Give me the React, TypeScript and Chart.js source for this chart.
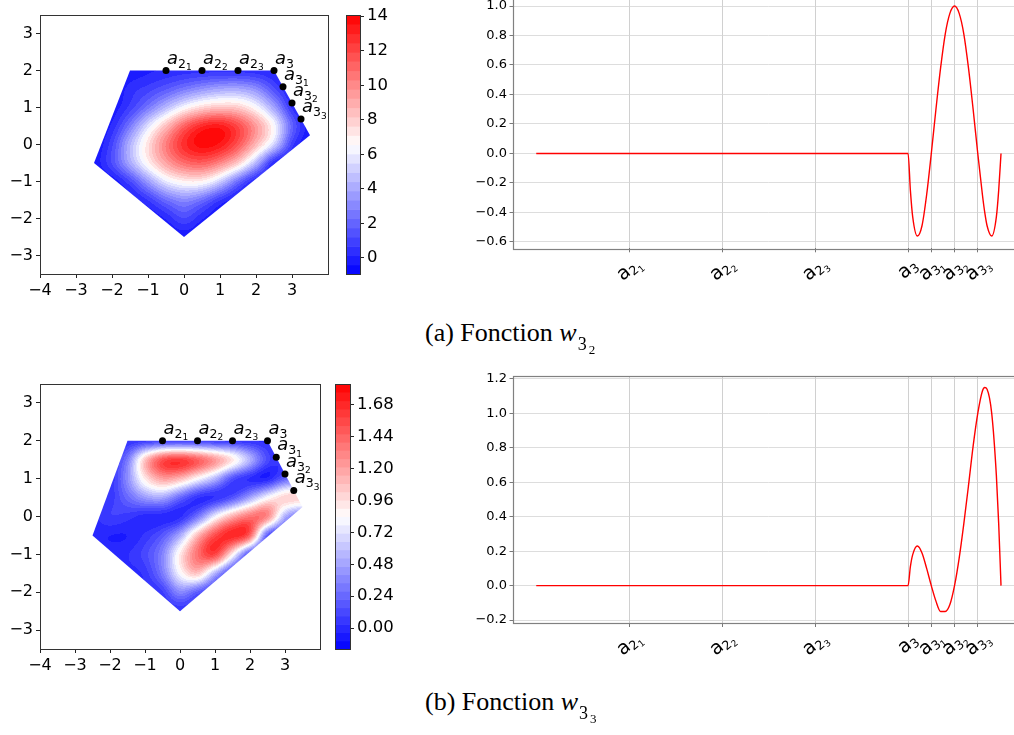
import React, { useEffect, useRef } from "react";
import { Chart, registerables } from "chart.js";

Chart.register(...registerables);

// ---------------- data ----------------
const contourXTicks = [-4, -3, -2, -1, 0, 1, 2, 3];
const contourYTicks = [-3, -2, -1, 0, 1, 2, 3];

const polygonX = [-1.5, 2.5, 3.5, 0, -2.5];
const polygonY = [2, 2, 0.25, -2.5, -0.5];

const nodeX = [-0.5, 0.5, 1.5, 2.5, 2.75, 3, 3.25];
const nodeY = [2, 2, 2, 2, 1.5625, 1.125, 0.6875];
const nodeSub = ["2", "2", "2", "3", "3", "3", "3"];
const nodeSubSub = ["1", "2", "3", "", "1", "2", "3"];

// field sample grid
const gridX = [-2.5, -2, -1.5, -1, -0.5, 0, 0.5, 1, 1.5, 2, 2.5, 3, 3.5];
const gridY = [2, 1.5, 1, 0.5, 0, -0.5, -1, -1.5, -2, -2.5];

const fieldW32 = [
  [-0.5, -0.5, -0.3, 0, 0.2, 0.3, 0.3, 0.3, 0.3, 0.2, 0, -0.5, -0.5],
  [-0.5, -0.5, 0.4, 0.9, 1.6, 2.5, 3.3, 3.9, 4.0, 3.3, 1.3, -0.3, -0.5],
  [-0.5, -0.3, 0.8, 2.5, 4.5, 6.5, 7.8, 8.3, 8.1, 6.6, 3.9, 0.4, -0.5],
  [-0.5, 0.2, 2.6, 5.8, 8.6, 11.4, 13.2, 13.6, 12.2, 9.8, 6.8, 2.0, -0.3],
  [-0.5, 1.0, 4.5, 7.6, 10.6, 13.0, 14.0, 13.6, 11.8, 8.8, 5.6, 0.8, -0.5],
  [-0.3, 1.3, 4.2, 7.0, 9.4, 11.0, 11.5, 10.3, 8.2, 4.4, -0.2, -0.5, -0.5],
  [-0.5, -0.4, 1.0, 3.6, 6.0, 7.0, 7.0, 5.2, 2.0, -0.3, -0.5, -0.5, -0.5],
  [-0.5, -0.5, -0.4, 0.6, 2.2, 3.1, 2.2, 0.5, -0.4, -0.5, -0.5, -0.5, -0.5],
  [-0.5, -0.5, -0.5, -0.5, 0.1, 1.3, 0.1, -0.5, -0.5, -0.5, -0.5, -0.5, -0.5],
  [-0.5, -0.5, -0.5, -0.5, -0.5, -0.3, -0.5, -0.5, -0.5, -0.5, -0.5, -0.5, -0.5],
];

const fieldW33 = [
  [0, 0, 0, 0, 0, 0, 0, 0, 0, 0, 0, 0, 0],
  [0, 0, 0.3, 1.15, 1.65, 1.75, 1.6, 1.35, 1.05, 0.6, 0.12, 0, 0],
  [0, 0, 0.4, 0.95, 1.25, 1.15, 0.84, 0.55, 0.08, -0.05, -0.1, 0.2, 0.3],
  [0, 0.04, 0.25, 0.45, 0.5, 0.2, -0.04, -0.06, 0.1, 0.45, 0.85, 1.1, 1.1],
  [0, 0.1, 0.05, -0.04, -0.06, -0.05, 0.25, 0.8, 1.2, 1.45, 1.45, 0.5, 0.2],
  [0, -0.05, -0.05, 0.04, 0.18, 0.5, 1.15, 1.6, 1.8, 1.6, 0.05, 0, 0],
  [0, 0, 0.02, 0.12, 0.35, 0.95, 1.45, 1.7, 0.9, 0, 0, 0, 0],
  [0, 0, 0, 0.04, 0.32, 0.85, 1.15, 0.5, 0, 0, 0, 0, 0],
  [0, 0, 0, 0, 0.05, 0.4, 0.15, 0, 0, 0, 0, 0, 0],
  [0, 0, 0, 0, 0, 0, 0, 0, 0, 0, 0, 0, 0],
];

const colorRangeA = [-0.93, 14.07];
const colorRangeB = [-0.158, 1.838];
const colorbarTicksA = [0, 2, 4, 6, 8, 10, 12, 14];
const colorbarTicksB = [0, 0.24, 0.48, 0.72, 0.96, 1.2, 1.44, 1.68];

// traces along the boundary
const edgeParam = [0, 4, 4.025, 4.05, 4.1, 4.15, 4.2, 4.25, 4.3, 4.35, 4.4, 4.45, 4.5, 4.55, 4.6, 4.65, 4.7, 4.75, 4.8, 4.825, 4.85, 4.9, 4.95, 4.975, 5];
const traceW32 = [0, 0, -0.25, -0.43, -0.56, -0.49, -0.28, 0, 0.3, 0.58, 0.81, 0.95, 1.0, 0.95, 0.81, 0.58, 0.3, 0, -0.28, -0.4, -0.49, -0.56, -0.43, -0.25, 0];
const traceW33 = [0, 0, 0.11, 0.18, 0.23, 0.19, 0.1, 0, -0.09, -0.15, -0.15, -0.11, 0, 0.16, 0.36, 0.58, 0.81, 1.0, 1.13, 1.15, 1.14, 1.0, 0.64, 0.36, 0];

const lineXTicks = [1, 2, 3, 4, 4.25, 4.5, 4.75];
const lineTickSub = ["2", "2", "2", "3", "3", "3", "3"];
const lineTickSubSub = ["1", "2", "3", "", "1", "2", "3"];
const lineYTicksA = [-0.6, -0.4, -0.2, 0, 0.2, 0.4, 0.6, 0.8, 1.0];
const lineYTicksB = [-0.2, 0, 0.2, 0.4, 0.6, 0.8, 1.0, 1.2];
const lineRangeA = [-0.643, 1.078];
const lineRangeB = [-0.217, 1.217];

// ---------------- helpers ----------------
const FONT = "'DejaVu Sans', sans-serif";
const MINUS = "\u2212";
const fmt = (v: number, d: number) => (v < -1e-9 ? MINUS : "") + Math.abs(v).toFixed(d);

function bwr(n: number): [number, number, number] {
  const t = Math.max(0, Math.min(1, n));
  if (t < 0.5) {
    const c = Math.round(510 * t);
    return [c, c, 255];
  }
  const c = Math.round(510 * (1 - t));
  return [255, c, c];
}

function boxPlugin(color: string, width: number) {
  return {
    id: "box",
    afterDraw(chart: any) {
      const { ctx, chartArea: ca } = chart;
      ctx.save();
      ctx.strokeStyle = color;
      ctx.lineWidth = width;
      ctx.strokeRect(Math.round(ca.left) + 0.5, Math.round(ca.top) + 0.5, Math.round(ca.right - ca.left), Math.round(ca.bottom - ca.top));
      ctx.restore();
    },
  };
}

function fieldPlugin(field: number[][], range: number[], bands: number) {
  return {
    id: "field",
    beforeDatasetsDraw(chart: any) {
      const { ctx, chartArea: ca, scales } = chart;
      const xs = scales.x, ys = scales.y;
      const cols = gridX.length, rows = gridY.length;
      const src = document.createElement("canvas");
      src.width = cols;
      src.height = rows;
      const sctx = src.getContext("2d")!;
      const img = sctx.createImageData(cols, rows);
      for (let r = 0; r < rows; r++) {
        for (let c = 0; c < cols; c++) {
          const n = (field[r][c] - range[0]) / (range[1] - range[0]);
          const b = Math.max(0, Math.min(255, Math.round(n * 255)));
          const i = (r * cols + c) * 4;
          img.data[i] = b;
          img.data[i + 1] = b;
          img.data[i + 2] = b;
          img.data[i + 3] = 255;
        }
      }
      sctx.putImageData(img, 0, 0);
      const W = Math.ceil(ca.right - ca.left);
      const H = Math.ceil(ca.bottom - ca.top);
      const off = document.createElement("canvas");
      off.width = W;
      off.height = H;
      const octx = off.getContext("2d", { willReadFrequently: true }) as CanvasRenderingContext2D;
      octx.imageSmoothingEnabled = true;
      (octx as any).imageSmoothingQuality = "high";
      const hx = (gridX[1] - gridX[0]) / 2;
      const hy = (gridY[0] - gridY[1]) / 2;
      const l = xs.getPixelForValue(gridX[0] - hx) - ca.left;
      const rr = xs.getPixelForValue(gridX[cols - 1] + hx) - ca.left;
      const t = ys.getPixelForValue(gridY[0] + hy) - ca.top;
      const bb = ys.getPixelForValue(gridY[rows - 1] - hy) - ca.top;
      octx.drawImage(src, l, t, rr - l, bb - t);
      const d = octx.getImageData(0, 0, W, H);
      for (let i = 0; i < d.data.length; i += 4) {
        const n = d.data[i] / 255;
        const k = Math.max(0, Math.min(bands - 1, Math.floor(n * bands)));
        const col = bwr((k + 0.5) / bands);
        d.data[i] = col[0];
        d.data[i + 1] = col[1];
        d.data[i + 2] = col[2];
        d.data[i + 3] = 255;
      }
      octx.putImageData(d, 0, 0);
      ctx.save();
      ctx.beginPath();
      polygonX.forEach((px, i) => {
        const X = xs.getPixelForValue(px);
        const Y = ys.getPixelForValue(polygonY[i]);
        if (i === 0) ctx.moveTo(X, Y);
        else ctx.lineTo(X, Y);
      });
      ctx.closePath();
      ctx.clip();
      ctx.drawImage(off, ca.left, ca.top);
      ctx.restore();
    },
  };
}

const nodeLabelPlugin = {
  id: "nodeLabels",
  afterDatasetsDraw(chart: any) {
    const { ctx, scales } = chart;
    ctx.save();
    ctx.fillStyle = "#000";
    ctx.textBaseline = "alphabetic";
    nodeX.forEach((nx, i) => {
      let px = scales.x.getPixelForValue(nx) + 1;
      const py = scales.y.getPixelForValue(nodeY[i]) - 7;
      ctx.font = `italic 18px ${FONT}`;
      ctx.fillText("a", px, py);
      px += ctx.measureText("a").width;
      ctx.font = `12.5px ${FONT}`;
      ctx.fillText(nodeSub[i], px, py + 4);
      px += ctx.measureText(nodeSub[i]).width;
      if (nodeSubSub[i]) {
        ctx.font = `9px ${FONT}`;
        ctx.fillText(nodeSubSub[i], px, py + 6.5);
      }
    });
    ctx.restore();
  },
};

const axisLabelPlugin = {
  id: "axisLabels",
  afterDraw(chart: any) {
    const { ctx, chartArea: ca, scales } = chart;
    lineXTicks.forEach((v, i) => {
      const px = scales.x.getPixelForValue(v);
      ctx.save();
      ctx.translate(px, ca.bottom + 21);
      ctx.rotate((-40 * Math.PI) / 180);
      ctx.fillStyle = "#000";
      ctx.textBaseline = "alphabetic";
      ctx.font = `19px ${FONT}`;
      const wa = ctx.measureText("a").width;
      ctx.font = `12.5px ${FONT}`;
      const wb = ctx.measureText(lineTickSub[i]).width;
      ctx.font = `9px ${FONT}`;
      const wc = lineTickSubSub[i] ? ctx.measureText(lineTickSubSub[i]).width : 0;
      let cx = -(wa + wb + wc) / 2;
      const base = 5;
      ctx.font = `19px ${FONT}`;
      ctx.fillText("a", cx, base);
      cx += wa;
      ctx.font = `12.5px ${FONT}`;
      ctx.fillText(lineTickSub[i], cx, base + 3);
      cx += wb;
      if (wc) {
        ctx.font = `9px ${FONT}`;
        ctx.fillText(lineTickSubSub[i], cx, base + 5.5);
      }
      ctx.restore();
    });
  },
};

function colorbarPlugin(range: number[], bands: number) {
  return {
    id: "colorbar",
    beforeDatasetsDraw(chart: any) {
      const { ctx, chartArea: ca, scales } = chart;
      const ys = scales.y;
      ctx.save();
      for (let k = 0; k < bands; k++) {
        const v0 = range[0] + ((range[1] - range[0]) * k) / bands;
        const v1 = range[0] + ((range[1] - range[0]) * (k + 1)) / bands;
        const c = bwr((k + 0.5) / bands);
        ctx.fillStyle = `rgb(${c[0]},${c[1]},${c[2]})`;
        const y0 = ys.getPixelForValue(v0);
        const y1 = ys.getPixelForValue(v1);
        ctx.fillRect(ca.left, y1, ca.right - ca.left, y0 - y1 + 0.6);
      }
      ctx.restore();
    },
  };
}

const baseOptions = {
  animation: false as const,
  responsive: false,
  maintainAspectRatio: false,
  events: [] as any[],
  plugins: { legend: { display: false }, tooltip: { enabled: false } },
};

function makeContour(canvas: HTMLCanvasElement, field: number[][], range: number[], bands: number, dims: any) {
  return new Chart(canvas, {
    type: "scatter",
    data: {
      datasets: [
        {
          data: nodeX.map((x, i) => ({ x, y: nodeY[i] })),
          pointRadius: 3.5,
          pointBackgroundColor: "#000",
          pointBorderWidth: 0,
          showLine: false,
        },
      ],
    },
    options: {
      ...baseOptions,
      layout: { autoPadding: false, padding: { top: dims.padTop, right: dims.padRight, left: 0, bottom: 0 } },
      scales: {
        x: {
          type: "linear",
          min: -4,
          max: 4,
          afterFit: (s: any) => { s.height = dims.xAxisH; },
          afterBuildTicks: (s: any) => { s.ticks = contourXTicks.map((v) => ({ value: v })); },
          ticks: { font: { family: FONT, size: 16 }, color: "#000", padding: 3, autoSkip: false, maxRotation: 0, callback: (v: any) => fmt(Number(v), 0) },
          grid: { drawOnChartArea: false, tickLength: 4, color: "#222", lineWidth: 1 },
          border: { display: false },
        },
        y: {
          type: "linear",
          min: -3.5,
          max: 3.5,
          afterFit: (s: any) => { s.width = 40; },
          afterBuildTicks: (s: any) => { s.ticks = contourYTicks.map((v) => ({ value: v })); },
          ticks: { font: { family: FONT, size: 16 }, color: "#000", padding: 3, autoSkip: false, callback: (v: any) => fmt(Number(v), 0) },
          grid: { drawOnChartArea: false, tickLength: 4, color: "#222", lineWidth: 1 },
          border: { display: false },
        },
      },
    } as any,
    plugins: [fieldPlugin(field, range, bands), nodeLabelPlugin, boxPlugin("#333", 1)],
  });
}

function makeColorbar(canvas: HTMLCanvasElement, range: number[], ticks: number[], decimals: number, bands: number, dims: any) {
  return new Chart(canvas, {
    type: "scatter",
    data: { datasets: [] },
    options: {
      ...baseOptions,
      layout: { autoPadding: false, padding: { top: dims.padTop, right: 0, left: dims.padLeft, bottom: dims.padBottom } },
      scales: {
        x: { display: false, type: "linear", min: 0, max: 1 },
        y: {
          type: "linear",
          position: "right",
          min: range[0],
          max: range[1],
          afterFit: (s: any) => { s.width = dims.axisW; },
          afterBuildTicks: (s: any) => { s.ticks = ticks.map((v) => ({ value: v })); },
          ticks: { font: { family: FONT, size: 16.5 }, color: "#000", padding: 3, autoSkip: false, callback: (v: any) => fmt(Number(v), decimals) },
          grid: { drawOnChartArea: false, tickLength: 4, color: "#222", lineWidth: 1 },
          border: { display: false },
        },
      },
    } as any,
    plugins: [colorbarPlugin(range, bands), boxPlugin("#333", 1)],
  });
}

function makeTrace(canvas: HTMLCanvasElement, values: number[], range: number[], yTicks: number[], dims: any) {
  return new Chart(canvas, {
    type: "line",
    data: {
      datasets: [
        {
          data: edgeParam.map((t, i) => ({ x: t, y: values[i] })),
          borderColor: "#ff0000",
          borderWidth: 1.4,
          pointRadius: 0,
          cubicInterpolationMode: "monotone",
          fill: false,
        },
      ],
    },
    options: {
      ...baseOptions,
      layout: { autoPadding: false, padding: { top: dims.padTop, right: dims.padRight, left: 0, bottom: 0 } },
      scales: {
        x: {
          type: "linear",
          min: -0.25,
          max: 5.25,
          afterFit: (s: any) => { s.height = dims.xAxisH; },
          afterBuildTicks: (s: any) => { s.ticks = lineXTicks.map((v) => ({ value: v })); },
          ticks: { display: false },
          grid: { color: "#c4c4c4", lineWidth: 0.8, tickLength: 4, tickColor: "#555" },
          border: { display: false },
        },
        y: {
          type: "linear",
          min: range[0],
          max: range[1],
          afterFit: (s: any) => { s.width = 53; },
          afterBuildTicks: (s: any) => { s.ticks = yTicks.map((v) => ({ value: v })); },
          ticks: { font: { family: FONT, size: 13 }, color: "#000", padding: 2.5, autoSkip: false, callback: (v: any) => fmt(Number(v), 1) },
          grid: { color: "#d4d4d4", lineWidth: 0.8, tickLength: 3.5, tickColor: "#555" },
          border: { display: false },
        },
      },
    } as any,
    plugins: [boxPlugin("#808080", 1.2), axisLabelPlugin],
  });
}

function Caption({ label, sub, subsub, top }: { label: string; sub: string; subsub: string; top: number }) {
  return (
    <div
      style={{
        position: "absolute",
        left: 425,
        top,
        fontFamily: "'Liberation Serif', 'Times New Roman', serif",
        fontSize: 26,
        lineHeight: "26px",
        color: "#000",
        whiteSpace: "nowrap",
      }}
    >
      {label} <span style={{ fontStyle: "italic" }}>w</span>
      <span style={{ fontSize: 18, position: "relative", top: 9, marginLeft: 1 }}>{sub}</span>
      <span style={{ fontSize: 13, position: "relative", top: 13, marginLeft: 2 }}>{subsub}</span>
    </div>
  );
}

export default function App() {
  const aRef = useRef<HTMLCanvasElement>(null);
  const bRef = useRef<HTMLCanvasElement>(null);
  const cRef = useRef<HTMLCanvasElement>(null);
  const dRef = useRef<HTMLCanvasElement>(null);
  const eRef = useRef<HTMLCanvasElement>(null);
  const fRef = useRef<HTMLCanvasElement>(null);

  useEffect(() => {
    const charts: Chart[] = [];
    charts.push(makeContour(aRef.current!, fieldW32, colorRangeA, 28, { padTop: 15, padRight: 12, xAxisH: 26 }));
    charts.push(makeColorbar(bRef.current!, colorRangeA, colorbarTicksA, 0, 28, { padTop: 15, padLeft: 16, padBottom: 26, axisW: 50 }));
    charts.push(makeTrace(cRef.current!, traceW32, lineRangeA, lineYTicksA, { padTop: 14.5, padRight: 15.75, xAxisH: 51.7 }));
    charts.push(makeContour(eRef.current!, fieldW33, colorRangeB, 32, { padTop: 14, padRight: 15, xAxisH: 31 }));
    charts.push(makeColorbar(fRef.current!, colorRangeB, colorbarTicksB, 2, 32, { padTop: 14, padLeft: 15, padBottom: 21, axisW: 60 }));
    charts.push(makeTrace(dRef.current!, traceW33, lineRangeB, lineYTicksB, { padTop: 26, padRight: 15.75, xAxisH: 47 }));
    return () => charts.forEach((c) => c.destroy());
  }, []);

  const cv = (left: number, top: number, w: number, h: number) => ({
    position: "absolute" as const,
    left,
    top,
    width: w,
    height: h,
  });

  return (
    <div style={{ position: "fixed", left: 0, top: 0, width: 1014, height: 735, background: "#fff", overflow: "hidden" }}>
      <canvas ref={aRef} width={340} height={300} style={cv(0, 0, 340, 300)} />
      <canvas ref={bRef} width={80} height={300} style={cv(330, 0, 80, 300)} />
      <canvas ref={cRef} width={580} height={320} style={cv(460, -20, 580, 320)} />
      <canvas ref={eRef} width={335} height={310} style={cv(0, 370, 335, 310)} />
      <canvas ref={fRef} width={90} height={300} style={cv(320, 370, 90, 300)} />
      <canvas ref={dRef} width={580} height={320} style={cv(460, 350, 580, 320)} />
      <Caption label="(a) Fonction" sub="3" subsub="2" top={320} />
      <Caption label="(b) Fonction" sub="3" subsub="3" top={689} />
    </div>
  );
}
